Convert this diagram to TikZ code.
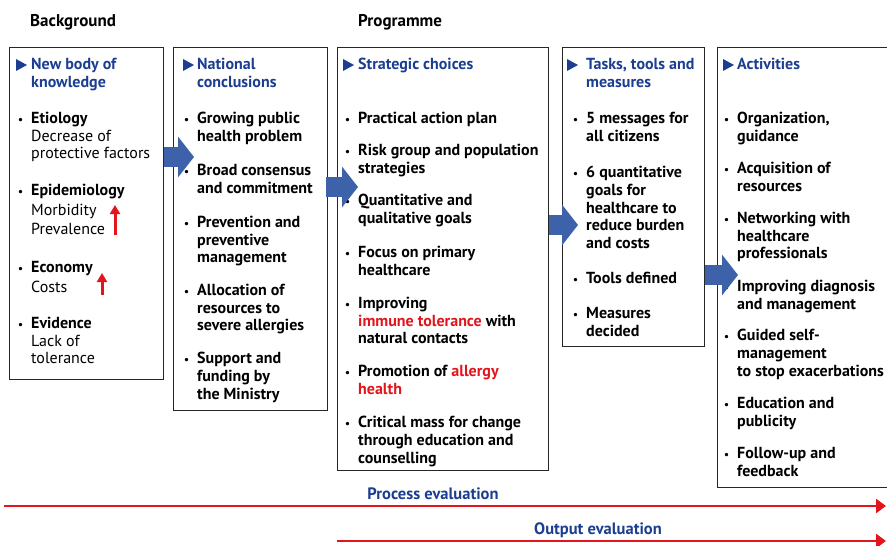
\documentclass[tikz,border=0pt]{standalone}
\usepackage{fontspec}
\setmainfont{PT Sans}
\usetikzlibrary{arrows.meta}
\definecolor{hdblue}{RGB}{28,62,145}
\definecolor{arrblue}{RGB}{62,98,170}
\definecolor{evred}{RGB}{226,20,28}
\newcommand\itm{\leavevmode\llap{{\fontsize{11}{11}\selectfont\textbullet}\hspace{8pt}}}

\begin{document}
\begin{tikzpicture}[x=1pt,y=-1pt,
    box/.style={draw=black!85,line width=1pt,anchor=north west,inner sep=0pt},
    head/.style={anchor=north west,inner sep=0pt,yshift=7pt,align=left,text=hdblue,font=\bfseries\fontsize{16}{17.7}\selectfont},
    item/.style={anchor=north west,inner sep=0pt,yshift=7pt,align=left,font=\bfseries\fontsize{16}{17.7}\selectfont},
    flow/.style={arrblue,line width=20pt,-{Triangle[length=16pt,width=40pt]}},
    rise/.style={evred,line width=3pt,-{Triangle[length=9pt,width=10pt]}},
    evline/.style={evred,line width=2.5pt,-{Triangle[length=10pt,width=14pt]}},
    evlabel/.style={inner sep=0pt,text=hdblue,font=\bfseries\fontsize{16.5}{18}\selectfont}]
    \useasboundingbox (0,0) rectangle (887,546);
    \clip (0,0) rectangle (887,546);
    \node[anchor=west,inner sep=0pt,font=\bfseries\fontsize{17}{18}\selectfont] (bglabel) at (30,22) {Background};
    \node[anchor=west,inner sep=0pt,font=\bfseries\fontsize{17}{18}\selectfont] (prlabel) at (358,22) {Programme};
    \node[box,minimum width=154pt,minimum height=332pt] (bg) at (9,47) {};
    \node[box,minimum width=154pt,minimum height=363pt] (nc) at (173,47) {};
    \node[box,minimum width=211pt,minimum height=423pt] (sc) at (337,47) {};
    \node[box,minimum width=142pt,minimum height=299pt] (tt) at (562,47) {};
    \node[box,minimum width=190pt,minimum height=440pt] (ac) at (717,47) {};
    \foreach \x in {16,183,343,567,723}
        \fill[hdblue] (\x,59) -- ++(11,6) -- ++(-11,6) -- cycle;
    \node[head] (bghead) at (31,65) {New body of\\knowledge};
    \node[head] (nchead) at (197,65) {National\\conclusions};
    \node[head] (schead) at (358,65) {Strategic choices};
    \node[head] (tthead) at (586,65) {Tasks, tools and\\measures};
    \node[head] (achead) at (737,65) {Activities};
    \foreach \y/\t [count=\i] in {119/{Etiology\\{\mdseries Decrease of}\\{\mdseries protective factors}},
        191/{Epidemiology\\[2pt]{\mdseries Morbidity}\\[2pt]{\mdseries Prevalence}},
        268/{Economy\\[2pt]{\mdseries Costs}},
        324/{Evidence\\{\mdseries Lack of}\\{\mdseries tolerance}}}
        \node[item] (bg\i) at (31,\y) {\itm\t};
    \draw[rise] (115,235) -- (115,205);
    \draw[rise] (102,295) -- (102,273);
    \foreach \y/\t [count=\i] in {119/{Growing public\\health problem},
        171/{Broad consensus\\and commitment},
        223/{Prevention and\\preventive\\management},
        291/{Allocation of\\resources to\\severe allergies},
        359/{Support and\\funding by\\the Ministry}}
        \node[item] (nc\i) at (197,\y) {\itm\t};
    \foreach \y/\t [count=\i] in {119/{Practical action plan},
        151/{Risk group and population\\strategies},
        201/{Quantitative and\\qualitative goals},
        253/{Focus on primary\\healthcare},
        304/{Improving\\{\color{evred}immune tolerance} with\\natural contacts},
        372/{Promotion of {\color{evred}allergy}\\{\color{evred}health}},
        423/{Critical mass for change\\through education and\\counselling}}
        \node[item] (sc\i) at (358,\y) {\itm\t};
    \foreach \y/\t [count=\i] in {119/{5 messages for\\all citizens},
        173/{6 quantitative\\goals for\\healthcare to\\reduce burden\\and costs},
        279/{Tools defined},
        314/{Measures\\decided}}
        \node[item] (tt\i) at (586,\y) {\itm\t};
    \foreach \y/\t [count=\i] in {119/{Organization,\\guidance},
        169/{Acquisition of\\resources},
        219/{Networking with\\healthcare\\professionals},
        287/{Improving diagnosis\\and management},
        336/{Guided self-\\management\\to stop exacerbations},
        404/{Education and\\publicity},
        454/{Follow-up and\\feedback}}
        \node[item] (ac\i) at (737,\y) {\itm\t};
    \draw[flow] (bg.east |- 0,157) -- ++(30,0);
    \draw[flow] ([xshift=-2pt]nc.east |- 0,187) -- ++(32,0);
    \draw[flow] (sc.east |- 0,225) -- ++(29,0);
    \draw[flow] (tt.east |- 0,275) -- ++(33,0);
    \node[evlabel] (pelabel) at (433,494) {Process evaluation};
    \coordinate (peend) at (886,506);
    \draw[evline] (4,506) -- (peend);
    \node[evlabel] (oelabel) at (598,530) {Output evaluation};
    \coordinate (oeend) at (886,541);
    \draw[evline] (sc.west |- 0,541) -- (oeend);
\end{tikzpicture}
\end{document}
